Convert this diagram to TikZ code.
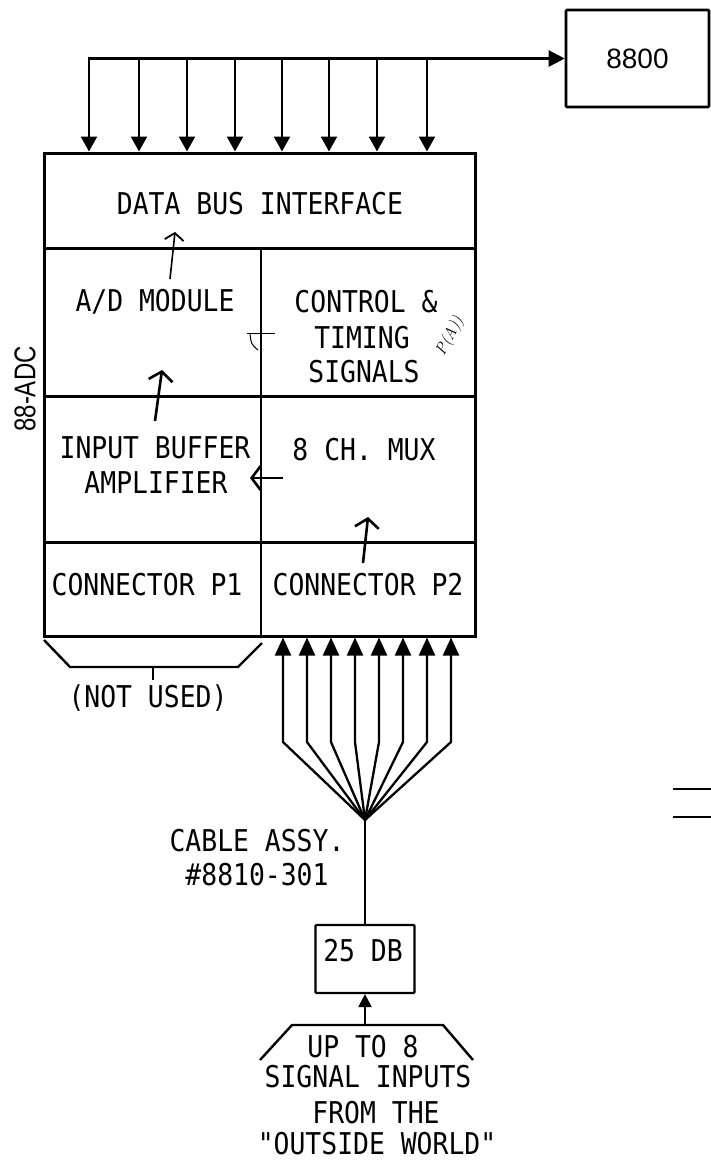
\documentclass[tikz,border=0pt]{standalone}
\usepackage{fontspec}
\usetikzlibrary{arrows.meta}
\newfontfamily\lett[FakeStretch=0.88]{DejaVu Sans Mono}
\newfontfamily\helv{Liberation Sans}
\newfontfamily\helvc[FakeStretch=0.8]{Liberation Sans}
\begin{document}
\begin{tikzpicture}[x=1pt,y=-1pt,
  lettering/.style={font=\lett\fontsize{30}{36}\selectfont, inner sep=0pt, text height=21.9pt, text depth=0pt},
  frame/.style={draw, line width=3pt},
  droparrow/.style={line width=2.3pt, -{Triangle[length=15pt,width=16pt]}},
  fanarrow/.style={line width=2.3pt, line join=round, -{Triangle[length=18pt,width=16pt]}},
  busarrow/.style={line width=2.5pt, line cap=rect, -{Triangle[length=16pt,width=16pt]}},
  smallarrow/.style={line width=2.2pt, -{Triangle[length=13pt,width=13pt]}},
  handarrow/.style={line width=2.6pt, -{Straight Barb[length=9pt,width=24pt,line width=2.6pt]}},
  thinhand/.style={line width=1.6pt, -{Straight Barb[length=7pt,width=19pt,line width=1.8pt]}},
  boxstyle/.style={draw, line width=2.6pt, inner sep=0pt, rounded corners=1pt},
]
\fill[white] (0,0) rectangle (711,1168);
\useasboundingbox (0,0) rectangle (711,1168);

% 8800 box and bus
\node[boxstyle, minimum width=143pt, minimum height=97pt, font=\helv\fontsize{28}{32}\selectfont] (b8800) at (637.5,58.5) {8800};

% main 88-ADC block
\node[frame, minimum width=431pt, minimum height=483pt, inner sep=0pt] (adc) at (259.5,394.5) {};
\coordinate (h1) at (0,248);
\coordinate (h2) at (0,396);
\coordinate (h3) at (0,542);
\coordinate (vdiv) at (261,248);
\draw[frame] (adc.west |- h1) -- (adc.east |- h1);
\draw[frame] (adc.west |- h2) -- (adc.east |- h2);
\draw[frame] (adc.west |- h3) -- (adc.east |- h3);
\draw[line width=2pt] (vdiv) -- (vdiv |- adc.south);

% data bus
\foreach \i/\x in {1/89,2/139,3/187,4/235,5/282,6/329,7/377,8/427}{
  \coordinate (d\i) at (\x,58.5);
  \draw[droparrow] (d\i) -- (d\i |- adc.north);
}
\draw[busarrow] (d1) -- (b8800.west);

% texts in the block
\node[lettering] (dbi) at (260,204) {DATA BUS INTERFACE};
\node[lettering] (adm) at (155,301) {A/D MODULE};
\node[lettering] (ct1) at (366,302) {CONTROL \&};
\node[lettering] (ct2) at (362,338) {TIMING};
\node[lettering] (ct3) at (364,372) {SIGNALS};
\node[lettering] (ib1) at (155,448) {INPUT BUFFER};
\node[lettering] (ib2) at (156,483) {AMPLIFIER};
\node[lettering] (mux) at (364,450) {8 CH. MUX};
\node[lettering] (cp1) at (147,585) {CONNECTOR P1};
\node[lettering] (cp2) at (368,585) {CONNECTOR P2};

\node[font=\helvc\fontsize{30}{36}\selectfont, rotate=90, inner sep=0pt] (lbl) at (25,389) {88-ADC};

% hand-drawn arrows inside
\coordinate (a1s) at (170,279); \coordinate (a1e) at (175,232);
\draw[thinhand] (a1s) -- (a1e);
\coordinate (a2s) at (155,421); \coordinate (a2e) at (162,370);
\draw[handarrow] (a2s) -- (a2e);
\coordinate (a3s) at (283,478); \coordinate (a3e) at (250,478);
\draw[handarrow] (a3s) -- (a3e);
\coordinate (a4s) at (363,563); \coordinate (a4e) at (368,517);
\draw[handarrow] (a4s) -- (a4e);

% handwritten marks
\draw[line width=1pt] (247,333) -- (275,333);
\draw[line width=1pt] (250,333) .. controls (251,344) .. (258,350);
\node[font=\itshape\fontsize{16}{18}\selectfont, rotate=62, inner sep=0pt] (hw) at (450,336) {P(A))};

% not used bracket
\coordinate (n1) at (44,640); \coordinate (n2) at (70,667);
\coordinate (n3) at (238,667); \coordinate (n4) at (262,643);
\coordinate (nt1) at (153,667); \coordinate (nt2) at (153,680);
\draw[line width=2.4pt, line join=round] (n1) -- (n2) -- (n3) -- (n4);
\draw[line width=1.6pt] (nt1) -- (nt2);
\node[lettering] (nu) at (148,697) {(NOT USED)};

% cable fan
\coordinate (hub) at (365,820);
\foreach \i in {0,...,7}{
  \pgfmathsetmacro{\fx}{283+24*\i}
  \coordinate (f\i) at (\fx,742);
  \draw[fanarrow] (hub) -- (f\i) -- (f\i |- adc.south);
}
\node[lettering] (cab1) at (257,841) {CABLE ASSY.};
\node[lettering] (cab2) at (257,875) {\#8810-301};

% 25 DB
\node[boxstyle, line width=2.2pt, minimum width=99pt, minimum height=68pt] (db) at (365,959) {};
\node[lettering] (dbl) at (363,951) {25 DB};
\draw[line width=2.2pt] (hub) -- (db.north);

% input bracket
\coordinate (bk1) at (260,1060); \coordinate (bk2) at (292,1025);
\coordinate (bk3) at (443,1025); \coordinate (bk4) at (473,1060);
\coordinate (bkm) at (365,1025);
\draw[line width=2.4pt, line join=round] (bk1) -- (bk2) -- (bk3) -- (bk4);
\draw[smallarrow] (bkm) -- (db.south);
\node[lettering] (in1) at (363,1047) {UP TO 8};
\node[lettering] (in2) at (368,1077) {SIGNAL INPUTS};
\node[lettering] (in3) at (376,1113) {FROM THE};
\node[lettering] (in4) at (377,1144) {"OUTSIDE WORLD"};

% marks at right edge
\draw[line width=2.8pt] (673,789) -- (711,789);
\draw[line width=2.8pt] (673,817) -- (711,817);
\end{tikzpicture}
\end{document}
